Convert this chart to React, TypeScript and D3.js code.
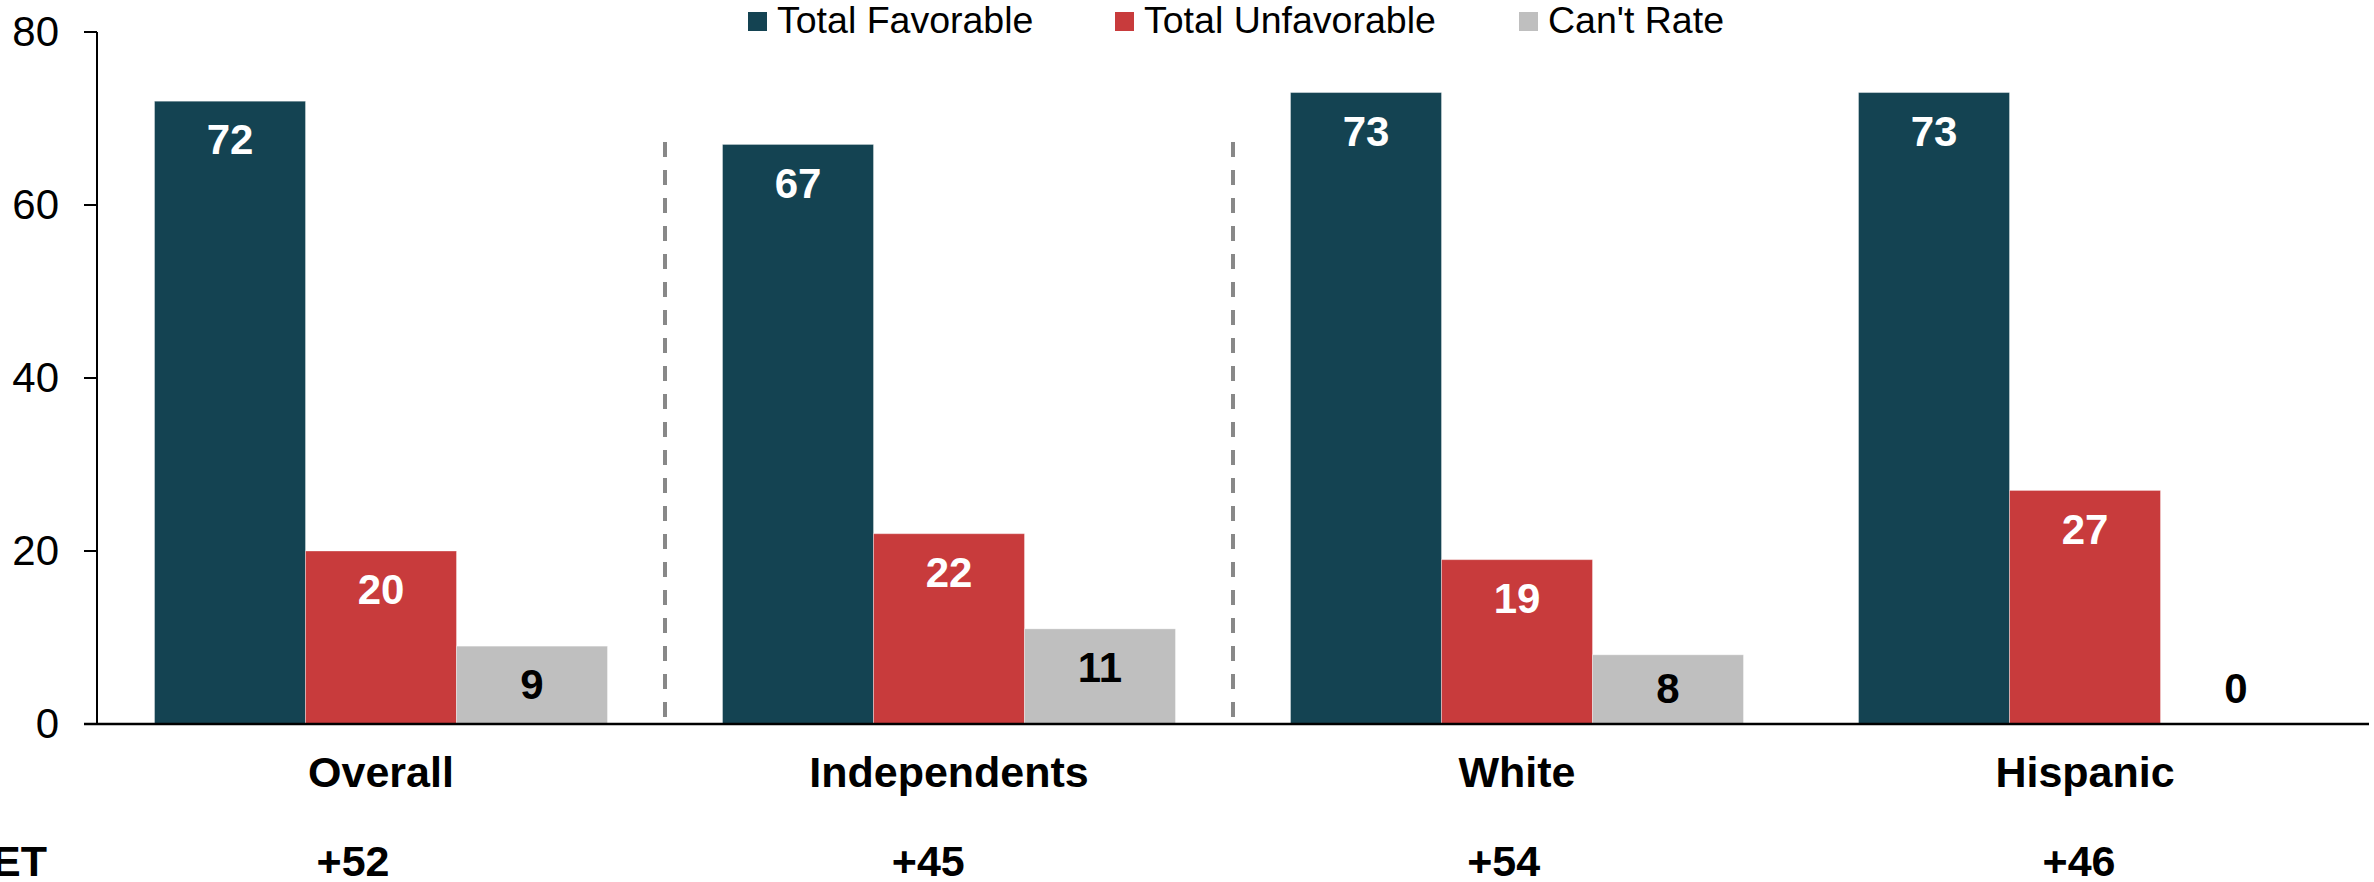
import React from "react";
import * as d3 from "d3";

const categories = ["Overall", "Independents", "White", "Hispanic"];
const seriesNames = ["Total Favorable", "Total Unfavorable", "Can't Rate"];
const favorable = [72, 67, 73, 73];
const unfavorable = [20, 22, 19, 27];
const cantRate = [9, 11, 8, 0];
const netLabels = ["+52", "+45", "+54", "+46"];
const yTicks = [0, 20, 40, 60, 80];
const colors = ["#144352", "#C83B3C", "#BFBFBF"];
const labelColors = ["#FFFFFF", "#FFFFFF", "#000000"];
const dividerAfter = [0, 1];

const W = 2374;
const H = 882;
const FONT = "'Liberation Sans', Arial, Helvetica, sans-serif";

export default function App() {
  const series = [favorable, unfavorable, cantRate];
  const x0 = d3
    .scaleBand<string>()
    .domain(categories)
    .range([97, 2369])
    .paddingInner(0.2025)
    .paddingOuter(0.10125);
  const x1 = d3
    .scaleBand<string>()
    .domain(seriesNames)
    .range([0, x0.bandwidth()])
    .padding(0);
  const y = d3.scaleLinear().domain([0, 80]).range([724, 32]);
  const xNet = d3.scaleLinear().domain([0, 3]).range([353, 2079]);

  const legendX = [748, 1115, 1519];

  return (
    <svg
      width={W}
      height={H}
      style={{ position: "absolute", left: 0, top: 0, background: "#fff" }}
      fontFamily={FONT}
    >
      {/* legend */}
      {seriesNames.map((s, i) => (
        <g key={s}>
          <rect x={legendX[i]} y={12} width={19} height={19} fill={colors[i]} />
          <text x={legendX[i] + 29} y={33} fontSize={37.5} fill="#000">
            {s}
          </text>
        </g>
      ))}

      {/* dividers */}
      {dividerAfter.map((i) => {
        const xx = (x0(categories[i])! + x0.bandwidth() + x0(categories[i + 1])!) / 2;
        return (
          <line
            key={i}
            x1={xx}
            x2={xx}
            y1={142}
            y2={722}
            stroke="#888888"
            strokeWidth={4}
            strokeDasharray="15 13"
          />
        );
      })}

      {/* bars */}
      {categories.map((c, ci) => (
        <g key={c} transform={`translate(${x0(c)},0)`}>
          {seriesNames.map((s, si) => {
            const v = series[si][ci];
            const bx = x1(s)!;
            const top = y(v);
            const ly = Math.min(top + 38, y(0) - 36);
            return (
              <g key={s}>
                {v > 0 && (
                  <rect
                    x={bx}
                    y={top}
                    width={x1.bandwidth()}
                    height={y(0) - top}
                    fill={colors[si]}
                    stroke="rgba(255,255,255,0.35)"
                    strokeWidth={1}
                  />
                )}
                <text
                  x={bx + x1.bandwidth() / 2}
                  y={ly}
                  dy="0.36em"
                  textAnchor="middle"
                  fontSize={42}
                  fontWeight="bold"
                  fill={labelColors[si]}
                >
                  {v}
                </text>
              </g>
            );
          })}
        </g>
      ))}

      {/* y axis */}
      <line x1={97} x2={97} y1={y(80)} y2={y(0)} stroke="#000" strokeWidth={2} />
      {yTicks.map((t) => (
        <g key={t}>
          <line x1={84} x2={97} y1={y(t)} y2={y(t)} stroke="#000" strokeWidth={2} />
          <text x={59} y={y(t)} dy="0.33em" textAnchor="end" fontSize={42} fill="#000">
            {t}
          </text>
        </g>
      ))}
      {/* x axis */}
      <line x1={84} x2={2369} y1={y(0)} y2={y(0)} stroke="#000" strokeWidth={2.5} />

      {/* category labels */}
      {categories.map((c) => (
        <text
          key={c}
          x={x0(c)! + x0.bandwidth() / 2}
          y={787}
          textAnchor="middle"
          fontSize={43}
          fontWeight="bold"
          fill="#000"
        >
          {c}
        </text>
      ))}

      {/* net row */}
      <text x={47} y={876} textAnchor="end" fontSize={43} fontWeight="bold" fill="#000">
        NET
      </text>
      {netLabels.map((n, i) => (
        <text
          key={n}
          x={xNet(i)}
          y={876}
          textAnchor="middle"
          fontSize={43}
          fontWeight="bold"
          fill="#000"
        >
          {n}
        </text>
      ))}
    </svg>
  );
}
